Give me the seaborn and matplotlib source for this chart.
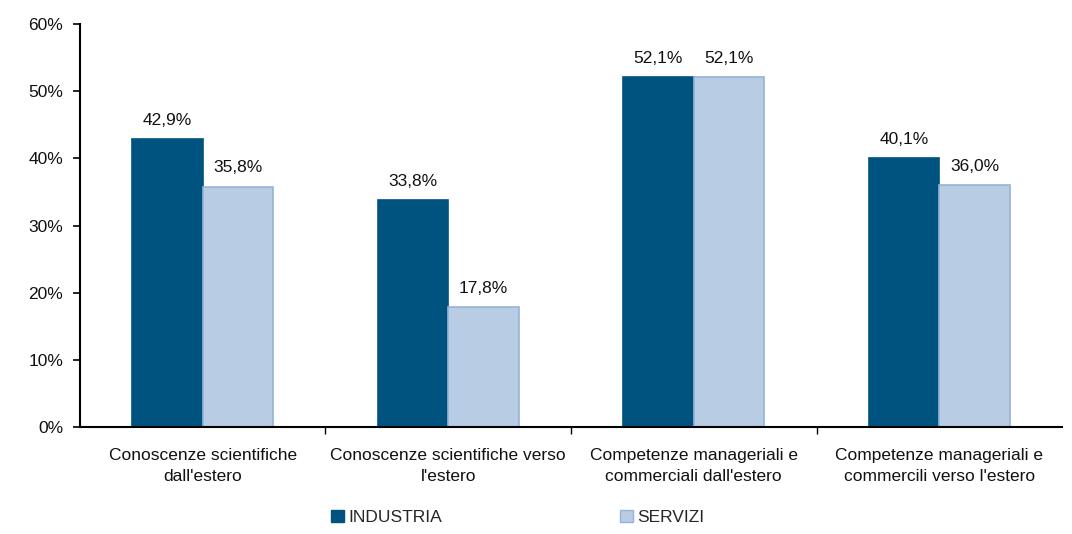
import matplotlib
matplotlib.use("Agg")
import matplotlib.pyplot as plt
import seaborn as sns
import pandas as pd
from matplotlib.ticker import FuncFormatter, FixedLocator, NullFormatter
from matplotlib.patches import Patch

categories = [
    "Conoscenze scientifiche\ndall'estero",
    "Conoscenze scientifiche verso\nl'estero",
    "Competenze manageriali e\ncommerciali dall'estero",
    "Competenze manageriali e\ncommercili verso l'estero",
]
industria = [42.9, 33.8, 52.1, 40.1]
servizi = [35.8, 17.8, 52.1, 36.0]
series_names = ["INDUSTRIA", "SERVIZI"]
y_ticks = [0, 10, 20, 30, 40, 50, 60]

df = pd.DataFrame({
    "categoria": categories * 2,
    "valore": industria + servizi,
    "settore": [series_names[0]] * 4 + [series_names[1]] * 4,
})

sns.set_theme(style="white")
plt.rcParams["font.family"] = ["Liberation Sans", "DejaVu Sans"]
FS = 12.5
plt.rcParams["font.size"] = FS

fig = plt.figure(figsize=(10.72, 5.34), dpi=100)
ax = fig.add_axes([0.0746, 0.2004, 0.9161, 0.7546])

palette = {"INDUSTRIA": "#00527F", "SERVIZI": "#B8CCE4"}
edges = {"INDUSTRIA": "#00527F", "SERVIZI": "#95B3D7"}
sns.barplot(data=df, x="categoria", y="valore", hue="settore", palette=palette,
            width=0.575, saturation=1, ax=ax, legend=False)

for cont, name in zip(ax.containers, series_names):
    for bar in cont:
        bar.set_edgecolor(edges[name])
        bar.set_linewidth(1.2)
    ax.bar_label(cont, labels=[f"{v:.1f}%".replace(".", ",") for v in cont.datavalues],
                 padding=8, fontsize=FS, color="#111111")

ax.set_ylim(0, 60)
ax.set_xlim(-0.5, 3.5)
ax.set_yticks(y_ticks)
ax.yaxis.set_major_formatter(FuncFormatter(lambda v, p: f"{v:.0f}%"))
ax.tick_params(axis="y", direction="out", length=5, width=1.2, color="black",
               labelsize=FS, labelcolor="#111111", left=True, pad=7)

# category labels centred, ticks on category boundaries
ax.xaxis.set_major_locator(FixedLocator([0.5, 1.5, 2.5]))
ax.xaxis.set_major_formatter(NullFormatter())
ax.xaxis.set_minor_locator(FixedLocator([0, 1, 2, 3]))
ax.set_xticklabels(categories, minor=True)
ax.tick_params(axis="x", which="major", direction="out", length=5, width=1, color="black", bottom=True)
ax.tick_params(axis="x", which="minor", length=0, labelsize=FS, labelcolor="#111111", pad=15)
for lbl in ax.get_xticklabels(minor=True):
    lbl.set_multialignment("center")
    lbl.set_linespacing(1.55)

ax.set_xlabel("")
ax.set_ylabel("")
for side in ["top", "right"]:
    ax.spines[side].set_visible(False)
for side in ["left", "bottom"]:
    ax.spines[side].set_color("black")
    ax.spines[side].set_linewidth(1.5)

handles = [Patch(facecolor=palette[n], edgecolor=edges[n], label=n) for n in series_names]
fig.legend(handles=handles, loc="center", bbox_to_anchor=(0.483, 0.031), ncol=2,
           frameon=False, fontsize=FS, handlelength=0.75, handleheight=0.75,
           handletextpad=0.25, columnspacing=10.2)

fig.savefig("out.png", dpi=100)
